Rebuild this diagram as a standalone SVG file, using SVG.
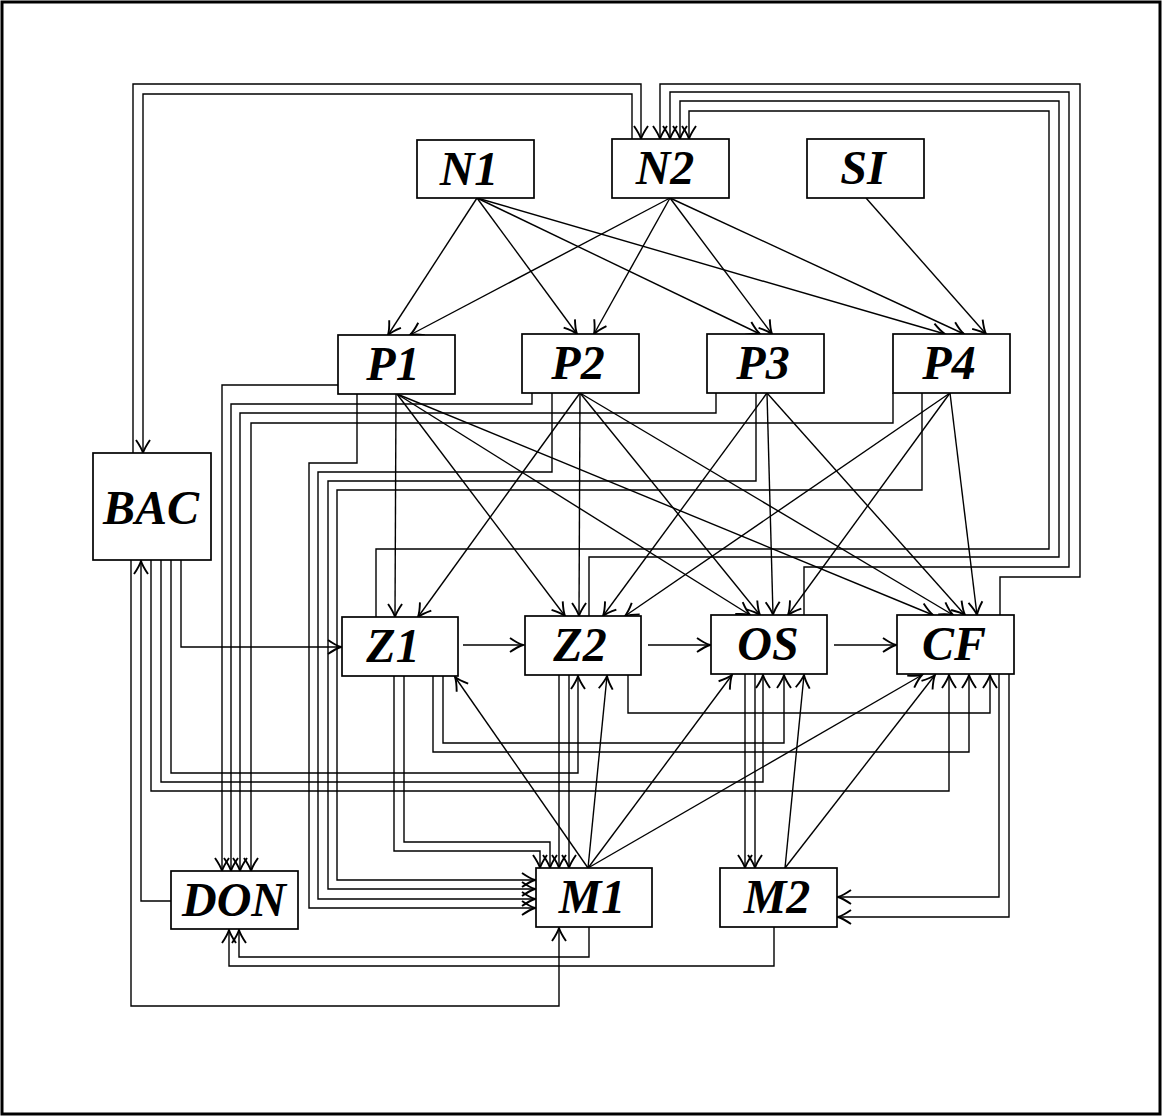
<svg xmlns="http://www.w3.org/2000/svg" width="1163" height="1117" viewBox="0 0 1163 1117">
<style>
.box{fill:#fff;stroke:#000;stroke-width:1.7}
.lbl{font-family:"Liberation Serif","DejaVu Serif",serif;font-style:italic;font-weight:bold;font-size:48px;fill:#000;text-anchor:middle}
.e{fill:none;stroke:#000;stroke-width:1.4;marker-end:url(#ah)}
</style>
<defs>
<marker id="ah" markerUnits="userSpaceOnUse" markerWidth="32" markerHeight="32" refX="0" refY="0" viewBox="-16 -16 32 32" orient="auto" overflow="visible">
<path d="M-13,-7 Q-5,-1.5 0,0 Q-5,1.5 -13,7" fill="none" stroke="#000" stroke-width="1.9"/>
</marker>
</defs>
<rect x="0" y="0" width="1163" height="1117" fill="#fff"/>
<rect x="2" y="2" width="1158" height="1112" fill="none" stroke="#000" stroke-width="3"/>
<g id="connectors">
<path class="e" d="M133,453 V84 H641 V139"/>
<path class="e" d="M632,139 V94 H143 V453"/>
<path class="e" d="M1000,615 V577 H1080 V84 H660 V139"/>
<path class="e" d="M804,615 V567 H1069 V92 H670 V139"/>
<path class="e" d="M589,616 V557 H1059 V101 H680 V139"/>
<path class="e" d="M376,617 V549 H1049 V111 H689 V139"/>
<path class="e" d="M338,385 H222 V871"/>
<path class="e" d="M532,393 V404 H231 V871"/>
<path class="e" d="M716,393 V413 H240 V871"/>
<path class="e" d="M893,393 V423 H251 V871"/>
<path class="e" d="M357,394 V463 H309 V908 H535"/>
<path class="e" d="M552,393 V472 H318 V899 H535"/>
<path class="e" d="M756,393 V481 H328 V889 H535"/>
<path class="e" d="M922,393 V490 H337 V880 H535"/>
<path class="e" d="M477,198 L388,335"/>
<path class="e" d="M477,198 L577,334"/>
<path class="e" d="M477,198 L760,334"/>
<path class="e" d="M477,198 L945,334"/>
<path class="e" d="M670,198 L410,335"/>
<path class="e" d="M670,198 L594,334"/>
<path class="e" d="M670,198 L772,334"/>
<path class="e" d="M670,198 L964,334"/>
<path class="e" d="M866,198 L986,334"/>
<path class="e" d="M396,394 L395,617"/>
<path class="e" d="M397,394 L565,616"/>
<path class="e" d="M397,394 L750,615"/>
<path class="e" d="M397,394 L933,615"/>
<path class="e" d="M580,393 L418,617"/>
<path class="e" d="M580,393 L579,616"/>
<path class="e" d="M580,393 L760,615"/>
<path class="e" d="M580,393 L953,615"/>
<path class="e" d="M767,393 L603,616"/>
<path class="e" d="M767,393 L773,615"/>
<path class="e" d="M767,393 L965,615"/>
<path class="e" d="M950,393 L625,616"/>
<path class="e" d="M950,393 L788,615"/>
<path class="e" d="M950,393 L977,615"/>
<path class="e" d="M181,560 V647 H341"/>
<path class="e" d="M171,560 V773 H578 V676"/>
<path class="e" d="M161,560 V782 H763 V675"/>
<path class="e" d="M151,560 V791 H949 V675"/>
<path class="e" d="M171,901 H141 V561"/>
<path class="e" d="M131,560 V1006 H559 V928"/>
<path class="e" d="M463,645 H523"/>
<path class="e" d="M648,645 H710"/>
<path class="e" d="M834,645 H896"/>
<path class="e" d="M404,676 V842 H550 V868"/>
<path class="e" d="M394,676 V851 H540 V868"/>
<path class="e" d="M559,675 V868"/>
<path class="e" d="M569,675 V868"/>
<path class="e" d="M443,676 V743 H784 V675"/>
<path class="e" d="M433,676 V752 H969 V675"/>
<path class="e" d="M628,675 V713 H990 V675"/>
<path class="e" d="M745,674 V868"/>
<path class="e" d="M755,674 V868"/>
<path class="e" d="M999,674 V897 H838"/>
<path class="e" d="M1009,674 V917 H838"/>
<path class="e" d="M588,868 L455,677"/>
<path class="e" d="M588,868 L607,676"/>
<path class="e" d="M588,868 L732,675"/>
<path class="e" d="M588,868 L922,675"/>
<path class="e" d="M785,868 L804,675"/>
<path class="e" d="M785,868 L935,675"/>
<path class="e" d="M589,927 V957 H239 V930"/>
<path class="e" d="M774,927 V966 H229 V930"/>
</g>
<g id="node-N1"><rect class="box" x="417" y="140" width="117" height="58"/><text class="lbl" x="469" y="185">N1</text></g>
<g id="node-N2"><rect class="box" x="612" y="139" width="117" height="59"/><text class="lbl" x="665" y="184">N2</text></g>
<g id="node-SI"><rect class="box" x="807" y="139" width="117" height="59"/><text class="lbl" x="863" y="184">SI</text></g>
<g id="node-P1"><rect class="box" x="338" y="335" width="117" height="59"/><text class="lbl" x="393" y="380">P1</text></g>
<g id="node-P2"><rect class="box" x="522" y="334" width="117" height="59"/><text class="lbl" x="578" y="379">P2</text></g>
<g id="node-P3"><rect class="box" x="707" y="334" width="117" height="59"/><text class="lbl" x="763" y="379">P3</text></g>
<g id="node-P4"><rect class="box" x="893" y="334" width="117" height="59"/><text class="lbl" x="949" y="379">P4</text></g>
<g id="node-BAC"><rect class="box" x="93" y="453" width="118" height="107"/><text class="lbl" x="151" y="524">BAC</text></g>
<g id="node-Z1"><rect class="box" x="342" y="617" width="116" height="59"/><text class="lbl" x="393" y="662">Z1</text></g>
<g id="node-Z2"><rect class="box" x="525" y="616" width="116" height="59"/><text class="lbl" x="580" y="661">Z2</text></g>
<g id="node-OS"><rect class="box" x="711" y="615" width="116" height="59"/><text class="lbl" x="768" y="660">OS</text></g>
<g id="node-CF"><rect class="box" x="897" y="615" width="117" height="59"/><text class="lbl" x="954" y="660">CF</text></g>
<g id="node-DON"><rect class="box" x="171" y="871" width="127" height="58"/><text class="lbl" x="234" y="916">DON</text></g>
<g id="node-M1"><rect class="box" x="536" y="868" width="116" height="59"/><text class="lbl" x="592" y="913">M1</text></g>
<g id="node-M2"><rect class="box" x="720" y="868" width="117" height="59"/><text class="lbl" x="777" y="913">M2</text></g>
</svg>
